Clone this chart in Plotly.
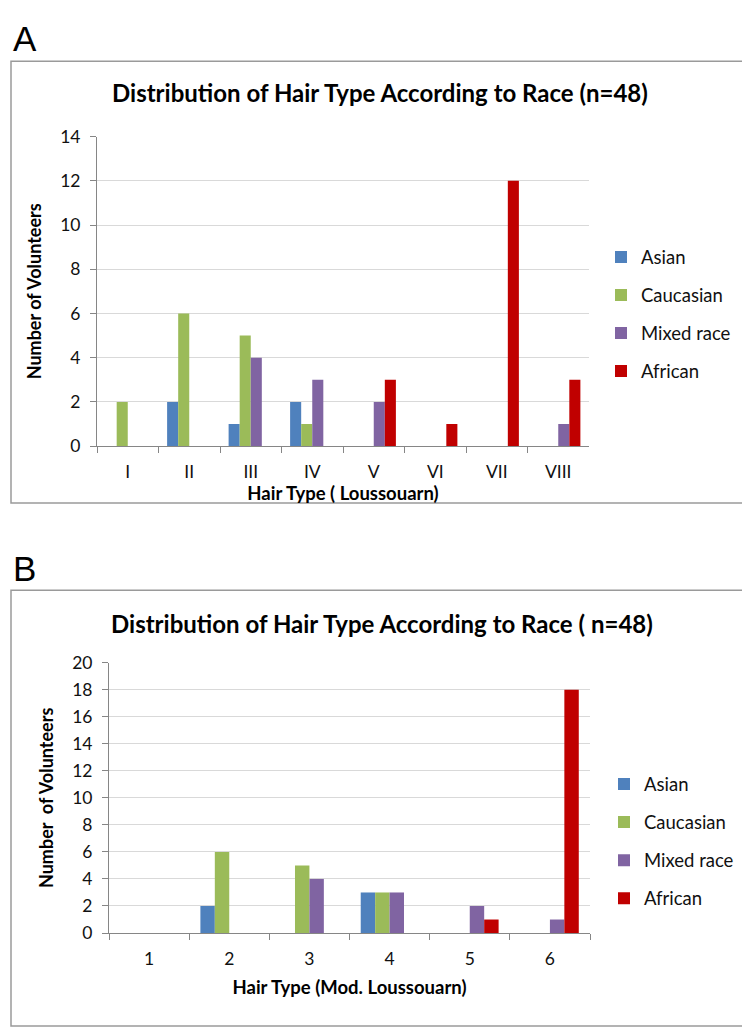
import plotly.graph_objects as go

# ---- Data ----
series_names = ["Asian", "Caucasian", "Mixed race", "African"]
series_colors = ["#4F81BD", "#9BBB59", "#8064A2", "#C00000"]

cats_a = ["I", "II", "III", "IV", "V", "VI", "VII", "VIII"]
asian_a = [0, 2, 1, 2, 0, 0, 0, 0]
caucasian_a = [2, 6, 5, 1, 0, 0, 0, 0]
mixed_a = [0, 0, 4, 3, 2, 0, 0, 1]
african_a = [0, 0, 0, 0, 3, 1, 12, 3]

cats_b = ["1", "2", "3", "4", "5", "6"]
asian_b = [0, 2, 0, 3, 0, 0]
caucasian_b = [0, 6, 5, 3, 0, 0]
mixed_b = [0, 0, 4, 3, 2, 1]
african_b = [0, 0, 0, 0, 1, 18]

title_a = "Distribution of Hair Type According to Race (n=48)"
title_b = "Distribution of Hair Type According to Race ( n=48)"
xtitle_a = "Hair Type ( Loussouarn)"
xtitle_b = "Hair Type (Mod. Loussouarn)"
ytitle_a = "Number of Volunteers"
ytitle_b = "Number  of Volunteers"

W, H = 750, 1033
FONT = "Lato, 'Open Sans', sans-serif"
AX = "#868686"
GRID = "#D9D9D9"


def px(x):
    return x / W


def py(y):
    return 1 - y / H


fig = go.Figure()
vals_a = [asian_a, caucasian_a, mixed_a, african_a]
vals_b = [asian_b, caucasian_b, mixed_b, african_b]
for name, col, v in zip(series_names, series_colors, vals_a):
    fig.add_trace(go.Bar(x=cats_a, y=v, name=name, marker=dict(color=col, line=dict(width=0)),
                         xaxis="x", yaxis="y", legend="legend", legendgroup="a" + name))
for name, col, v in zip(series_names, series_colors, vals_b):
    fig.add_trace(go.Bar(x=cats_b, y=v, name=name, marker=dict(color=col, line=dict(width=0)),
                         xaxis="x2", yaxis="y2", legend="legend2", legendgroup="b" + name))

xcommon = dict(type="category", showline=True, linecolor=AX, linewidth=1, ticks="outside",
               tickson="boundaries", ticklen=6, tickcolor=AX, showgrid=False,
               tickfont=dict(family=FONT, size=17.5, color="#111"), ticklabelstandoff=10,
               title_font=dict(family=FONT, size=18.5, color="#000"))
ycommon = dict(showline=True, linecolor=AX, linewidth=1, ticks="outside", ticklen=6, tickcolor=AX,
               showgrid=True, gridcolor=GRID, gridwidth=1, dtick=2, zeroline=False,
               tickfont=dict(family=FONT, size=17.5, color="#111"), ticklabelstandoff=6,
               title_font=dict(family=FONT, size=18, color="#000"))

fig.update_layout(
    width=W, height=H, margin=dict(l=0, r=0, t=0, b=0),
    paper_bgcolor="white", plot_bgcolor="white",
    barmode="group", bargap=0.28, bargroupgap=0,
    xaxis=dict(xcommon, domain=[px(89), px(581)], anchor="y",
               title=dict(text="<b>" + xtitle_a + "</b>", standoff=0)),
    yaxis=dict(ycommon, domain=[py(436), py(120)], anchor="x", range=[0, 14],
               title=dict(text="<b>" + ytitle_a + "</b>", standoff=13)),
    xaxis2=dict(xcommon, domain=[px(101), px(582)], anchor="y2",
                title=dict(text="<b>" + xtitle_b + "</b>", standoff=13)),
    yaxis2=dict(ycommon, domain=[py(933), py(657)], anchor="x2", range=[0, 20],
                title=dict(text="<b>" + ytitle_b + "</b>", standoff=13)),
    legend=dict(x=px(593), y=py(224), xanchor="left", yanchor="top",
                font=dict(family=FONT, size=18.5, color="#111"), tracegroupgap=11,
                bgcolor="rgba(0,0,0,0)"),
    legend2=dict(x=px(596), y=py(762), xanchor="left", yanchor="top",
                 font=dict(family=FONT, size=18.5, color="#111"), tracegroupgap=11,
                 bgcolor="rgba(0,0,0,0)"),
    showlegend=True,
)

# panel frames
for (x0, y0, x1, y1) in [(3, 43, 743, 494), (3, 583, 746, 1028)]:
    fig.add_shape(type="rect", xref="paper", yref="paper", x0=px(x0), y0=py(y0), x1=px(x1), y1=py(y1),
                  line=dict(color="#9A9A9A", width=1.5), fillcolor="rgba(0,0,0,0)", layer="below")

# titles and panel letters
for text, xc, yc in [(title_a, 372, 75), (title_b, 374, 617)]:
    fig.add_annotation(text="<b>" + text + "</b>", x=px(xc), y=py(yc), xref="paper", yref="paper",
                       xanchor="center", yanchor="middle", showarrow=False,
                       font=dict(family=FONT, size=24, color="#000"))
for text, yc in [("A", 20), ("B", 561)]:
    fig.add_annotation(text=text, x=px(3), y=py(yc), xref="paper", yref="paper",
                       xanchor="left", yanchor="middle", showarrow=False,
                       font=dict(family="'Liberation Sans', Arial, sans-serif", size=35, color="#000"))

fig.write_html("out.html")
